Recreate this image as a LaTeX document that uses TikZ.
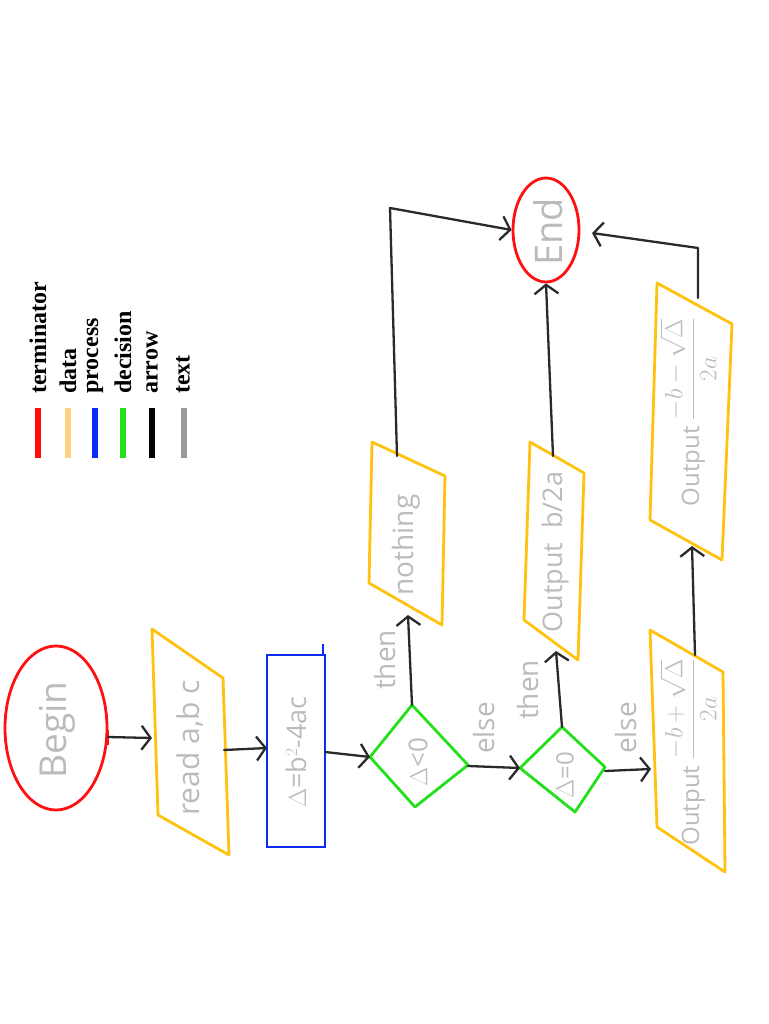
\documentclass[tikz,border=0pt]{standalone}
\usepackage{fontspec}
\setmainfont{Liberation Serif}
\newfontfamily\hand{Open Sans}
\usetikzlibrary{arrows.meta,shapes.geometric}
\definecolor{termred}{HTML}{FF1010}
\definecolor{datayel}{HTML}{FFC20E}
\definecolor{datalegend}{HTML}{FFD27F}
\definecolor{procblue}{HTML}{0A2CF5}
\definecolor{decgreen}{HTML}{22E01A}
\definecolor{arrowblk}{HTML}{2A2A2A}
\definecolor{txtgray}{HTML}{BBBBBB}
\definecolor{leggray}{HTML}{999999}
\tikzset{
  terminal/.style={draw=termred, line width=2.8pt, ellipse, inner sep=0pt},
  datashape/.style={draw=datayel, line width=2.8pt, line join=round},
  procshape/.style={draw=procblue, line width=2.8pt},
  decshape/.style={draw=decgreen, line width=2.8pt, line join=round},
  conn/.style={draw=arrowblk, line width=2.3pt, line cap=round, line join=round, -{Straight Barb[length=9pt,width=24pt,line width=2.3pt]}},
  hw/.style={text=txtgray, rotate=90, inner sep=0pt, font=\hand\fontsize{#1}{#1}\selectfont},
  legbar/.style={line width=6pt, draw=#1},
  legtxt/.style={rotate=90, anchor=west, inner sep=0pt, font=\bfseries\fontsize{24}{24}\selectfont},
}
\begin{document}
\begin{tikzpicture}[x=1pt,y=-1pt]
\useasboundingbox (0,0) rectangle (768,1024);

% legend
\draw[legbar=termred] (38,408) -- (38,458);
\draw[legbar=datalegend] (68,408) -- (68,458);
\draw[legbar=procblue] (95,408) -- (95,458);
\draw[legbar=decgreen] (123,408) -- (123,458);
\draw[legbar=black] (152,408) -- (152,458);
\draw[legbar=leggray] (184,408) -- (184,458);
\node[legtxt] (lt1) at (38,394) {terminator};
\node[legtxt] (lt2) at (68,394) {data};
\node[legtxt] (lt3) at (95,394) {process};
\node[legtxt] (lt4) at (123,394) {decision};
\node[legtxt] (lt5) at (152,394) {arrow};
\node[legtxt] (lt6) at (183,394) {text};

% Begin
\node[terminal, minimum width=102pt, minimum height=164pt] (begin) at (56,728) {};
\draw[draw=termred, line width=2.8pt] (108,730) -- (108,745);
\node[hw=37] (begint) at (57,730) {Begin};
\coordinate (beginout) at (108,737);

% read a,b c
\draw[datashape] (152,629) -- (223,678) -- (229,855) -- (158,815) -- cycle;
\node[hw=30] (read) at (190,748) {read a,b c};
\coordinate (readin) at (152,738);
\coordinate (readout) at (224,750);

% process
\draw[procshape] (267,655) rectangle (325,847);
\draw[procshape] (323,644) -- (323,656);
\node[hw=27] (proc) at (296,752) {$\Delta$=b$^2$-4ac};
\coordinate (procin) at (267,748);
\coordinate (procout) at (325,752);

% decision 1
\draw[decshape] (370,757) -- (412,705) -- (468,765) -- (415,807) -- cycle;
\node[hw=26] (d1) at (418,762) {$\Delta$<0};
\coordinate (d1l) at (370,757);
\coordinate (d1t) at (412,705);
\coordinate (d1r) at (468,766);
\node[hw=28] (then1) at (385,660) {then};
\node[hw=28] (else1) at (484,728) {else};

% nothing
\draw[datashape] (372,442) -- (445,476) -- (442,625) -- (369,583) -- cycle;
\node[hw=28] (nothing) at (406,545) {nothing};
\coordinate (nothin) at (408,615);
\coordinate (nothout) at (397,456);

% decision 2
\draw[decshape] (520,768) -- (562,727) -- (605,767) -- (575,812) -- cycle;
\node[hw=24] (d2) at (565,775) {$\Delta$=0};
\coordinate (d2l) at (520,768);
\coordinate (d2t) at (562,727);
\coordinate (d2r) at (605,771);
\node[hw=28] (then2) at (528,690) {then};
\node[hw=28] (else2) at (626,728) {else};

% output b/2a
\draw[datashape] (530,442) -- (584,473) -- (578,660) -- (524,620) -- cycle;
\node[hw=27] (outb) at (555,552) {Output\ \ b/2a};
\coordinate (outbin) at (556,651);
\coordinate (outbout) at (553,456);

% End
\node[terminal, minimum width=66pt, minimum height=104pt] (end) at (546,230) {};
\node[hw=38] (endt) at (548,232) {End};
\coordinate (endr) at (592,233);

% output plus
\draw[datashape] (650,630) -- (723,672) -- (725,872) -- (657,827) -- cycle;
\node[hw=24] (outp) at (688,752) {Output\ $\displaystyle\frac{-b+\sqrt{\Delta}}{2a}$};
\coordinate (outpin) at (651,769);
\coordinate (outpout) at (695,655);

% output minus
\draw[datashape] (657,283) -- (732,324) -- (722,560) -- (650,520) -- cycle;
\node[hw=24] (outm) at (688,412) {Output\ $\displaystyle\frac{-b-\sqrt{\Delta}}{2a}$};
\coordinate (outmin) at (692,546);
\coordinate (outmout) at (698,298);

% connectors
\draw[conn] (beginout) -- (readin);
\draw[conn] (readout) -- (procin);
\draw[conn] (procout) -- (d1l);
\draw[conn] (d1t) -- (nothin);
\draw[conn] (d1r) -- (d2l);
\draw[conn] (d2t) -- (outbin);
\draw[conn] (d2r) -- (outpin);
\draw[conn] (outpout) -- (outmin);
\draw[conn] (nothout) -- (390,208) -- (end.west);
\draw[conn] (outbout) -- (end.south);
\draw[conn] (outmout) -- (698,248) -- (endr);
\end{tikzpicture}
\end{document}
